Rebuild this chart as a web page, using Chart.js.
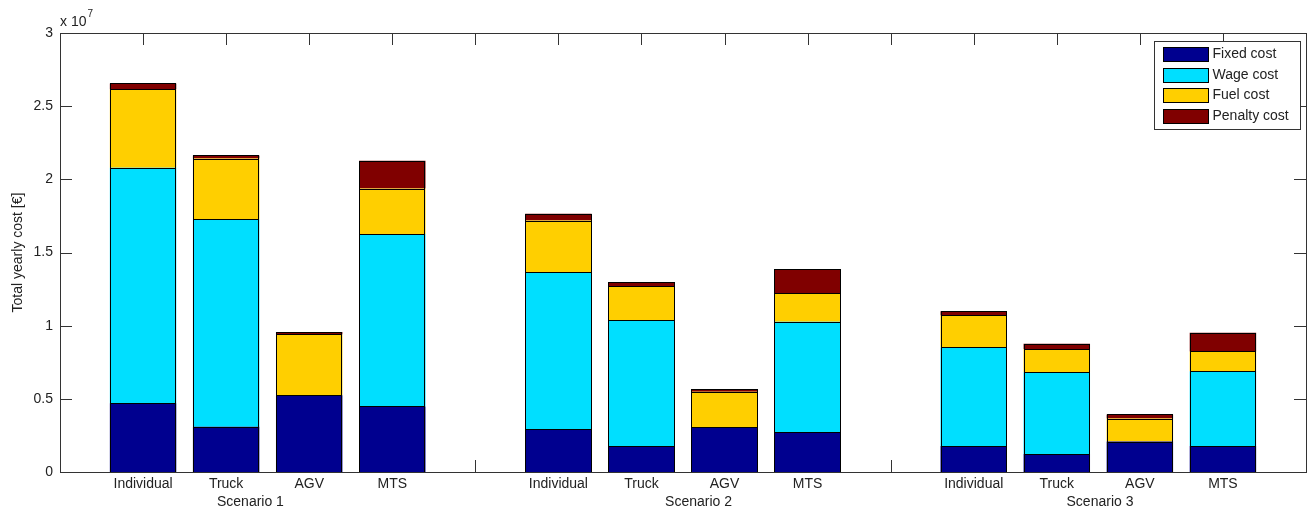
<!DOCTYPE html>
<html>
<head>
<meta charset="utf-8">
<script src="https://cdn.jsdelivr.net/npm/chart.js@4.4.1/dist/chart.umd.min.js"></script>
<style>
html,body{margin:0;padding:0;background:#fff;}
#wrap{width:1310px;height:510px;position:relative;}
</style>
</head>
<body>
<div id="wrap"><canvas id="c" width="1310" height="510"></canvas></div>
<script>
// ---- data (values in €) ----
const scenarios = ['Scenario 1', 'Scenario 2', 'Scenario 3'];
const vehicles = ['Individual', 'Truck', 'AGV', 'MTS'];
const seriesNames = ['Fixed cost', 'Wage cost', 'Fuel cost', 'Penalty cost'];
// order: S1 (Individual, Truck, AGV, MTS), S2 (...), S3 (...)
const fixedCost   = [4.70e6, 3.10e6, 5.25e6, 4.48e6,  2.94e6, 1.78e6, 3.06e6, 2.70e6,  1.78e6, 1.23e6, 2.08e6, 1.78e6];
const wageCost    = [16.10e6, 14.17e6, 0, 11.79e6,    10.73e6, 8.58e6, 0, 7.57e6,    6.73e6, 5.59e6, 0, 5.11e6];
const fuelCost    = [5.35e6, 4.15e6, 4.15e6, 3.10e6,  3.51e6, 2.33e6, 2.42e6, 1.96e6,  2.19e6, 1.58e6, 1.57e6, 1.35e6];
const penaltyCost = [0.40e6, 0.21e6, 0.16e6, 1.90e6,  0.46e6, 0.27e6, 0.18e6, 1.64e6,  0.28e6, 0.36e6, 0.28e6, 1.27e6];
const yTickValues = [0, 0.5, 1, 1.5, 2, 2.5, 3]; // ×10^7
const yExponent = 7;

const colors = ['#00008F', '#00DFFF', '#FFCF00', '#800000'];
const FONT = '"Liberation Sans", Arial, sans-serif';

// category slots: empty slot at each end and between scenarios
const labels = [''];
scenarios.forEach((s, g) => {
  vehicles.forEach(v => labels.push(v));
  labels.push('');
});
function spread(arr) {
  const out = [null];
  scenarios.forEach((s, g) => {
    vehicles.forEach((v, i) => out.push(arr[g * vehicles.length + i]));
    out.push(null);
  });
  return out;
}
const seriesData = [fixedCost, wageCost, fuelCost, penaltyCost];

const datasets = seriesData.map((arr, k) => ({
  label: seriesNames[k],
  data: spread(arr),
  backgroundColor: colors[k],
  borderWidth: 0,
  barPercentage: 0.8,
  categoryPercentage: 1.0
}));

const xTitle = scenarios[0] + ' '.repeat(98) + scenarios[1] + ' '.repeat(86) + scenarios[2] + ' '.repeat(4);

const frame = {
  id: 'matlabFrame',
  beforeDatasetsDraw(chart) {
    const ctx = chart.ctx, a = chart.chartArea;
    const xs = chart.scales.x, ys = chart.scales.y;
    ctx.save();
    ctx.strokeStyle = '#333';
    ctx.lineWidth = 1;
    ctx.beginPath();
    for (let i = 1; i < labels.length - 1; i++) {
      const px = Math.round(xs.getPixelForValue(i)) + 0.5;
      ctx.moveTo(px, a.bottom); ctx.lineTo(px, a.bottom - 12);
      ctx.moveTo(px, a.top); ctx.lineTo(px, a.top + 12);
    }
    ys.ticks.forEach(t => {
      const py = Math.round(ys.getPixelForValue(t.value)) + 0.5;
      ctx.moveTo(a.left, py); ctx.lineTo(a.left + 12, py);
      ctx.moveTo(a.right, py); ctx.lineTo(a.right - 12, py);
    });
    ctx.stroke();
    ctx.restore();
  },
  afterDatasetsDraw(chart) {
    const ctx = chart.ctx, a = chart.chartArea;
    ctx.save();
    // crisp black outlines around each bar segment
    ctx.strokeStyle = '#000';
    ctx.lineWidth = 1;
    chart.data.datasets.forEach((ds, di) => {
      const meta = chart.getDatasetMeta(di);
      meta.data.forEach((el, i) => {
        if (ds.data[i] === null || ds.data[i] === undefined) return;
        const p = el.getProps(['x', 'y', 'base', 'width'], true);
        const x0 = Math.round(p.x - p.width / 2) + 0.5;
        const x1 = Math.round(p.x + p.width / 2) - 0.5;
        const yTop = Math.round(Math.min(p.y, p.base)) + 0.5;
        const yBot = Math.round(Math.max(p.y, p.base)) + 0.5;
        ctx.strokeRect(x0, yTop, x1 - x0, yBot - yTop);
      });
    });
    ctx.strokeStyle = '#333';
    ctx.strokeRect(Math.round(a.left) + 0.5, Math.round(a.top) + 0.5,
                   Math.round(a.right - a.left), Math.round(a.bottom - a.top));
    // exponent label
    ctx.fillStyle = '#222';
    ctx.textBaseline = 'alphabetic';
    ctx.textAlign = 'left';
    ctx.font = '14px ' + FONT;
    const base = 'x 10';
    ctx.fillText(base, a.left, a.top - 7);
    const w = ctx.measureText(base).width;
    ctx.font = '10px ' + FONT;
    ctx.fillText(String(yExponent), a.left + w + 1, a.top - 16);
    // legend
    const bw = 146, bh = 88;
    const bx = Math.round(a.right) - 152 + 0.5, by = Math.round(a.top) + 8.5;
    ctx.fillStyle = '#fff';
    ctx.fillRect(bx, by, bw, bh);
    ctx.strokeStyle = '#333';
    ctx.strokeRect(bx, by, bw, bh);
    ctx.font = '14px ' + FONT;
    ctx.textBaseline = 'middle';
    seriesNames.forEach((name, i) => {
      const sy = Math.round(by + 5.5 + i * 20.5);
      ctx.fillStyle = colors[i];
      ctx.fillRect(bx + 9, sy, 45, 14);
      ctx.strokeStyle = '#000';
      ctx.strokeRect(bx + 9, sy + 0.5, 45, 14);
      ctx.fillStyle = '#222';
      ctx.fillText(name, bx + 58, sy + 7.5);
    });
    ctx.restore();
  }
};

new Chart(document.getElementById('c'), {
  type: 'bar',
  data: { labels, datasets },
  options: {
    responsive: false,
    animation: false,
    devicePixelRatio: 1,
    layout: { padding: { top: 33, right: 4, left: 0, bottom: 0 } },
    plugins: { legend: { display: false }, tooltip: { enabled: false } },
    scales: {
      x: {
        stacked: true,
        offset: false,
        grid: { display: false, drawTicks: false },
        border: { display: false },
        ticks: {
          autoSkip: false, maxRotation: 0, minRotation: 0, padding: 4,
          color: '#222', font: { family: FONT, size: 14 }
        },
        title: {
          display: true, text: xTitle, color: '#222',
          font: { family: FONT, size: 14, lineHeight: 1.1 },
          padding: { top: 0, bottom: 0 }
        },
        afterFit(scale) { scale.height = 38; }
      },
      y: {
        stacked: true,
        min: 0, max: yTickValues[yTickValues.length - 1] * Math.pow(10, yExponent),
        grid: { display: false, drawTicks: false },
        border: { display: false },
        afterBuildTicks(scale) {
          scale.ticks = yTickValues.map(v => ({ value: v * Math.pow(10, yExponent) }));
        },
        ticks: {
          padding: 7, color: '#222', font: { family: FONT, size: 14 },
          callback: v => String(+(v / Math.pow(10, yExponent)).toFixed(2))
        },
        title: {
          display: true, text: 'Total yearly cost [€]', color: '#222',
          font: { family: FONT, size: 14 },
          padding: { top: 10, bottom: 0 }
        },
        afterFit(scale) { scale.width = 60; }
      }
    }
  },
  plugins: [frame]
});
</script>
</body>
</html>
